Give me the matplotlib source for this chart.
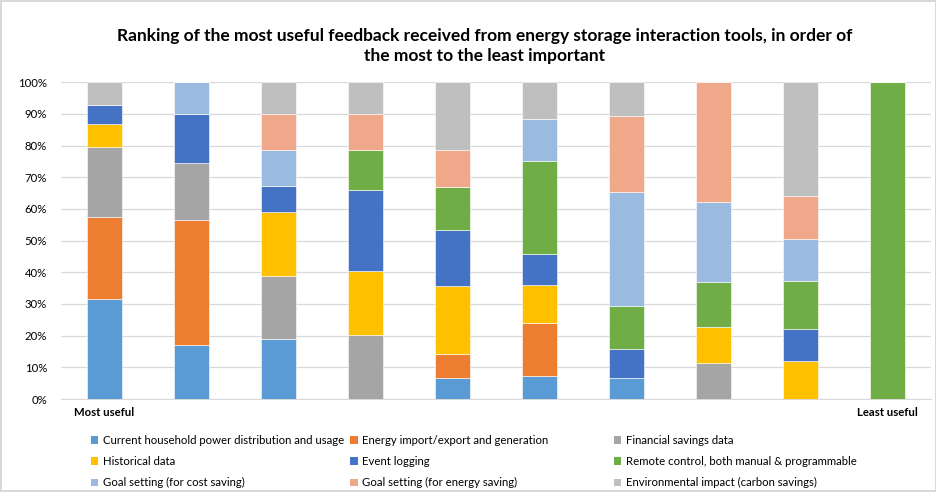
import numpy as np
import matplotlib
matplotlib.use('Agg')
import matplotlib.pyplot as plt
from matplotlib.patches import Patch
from matplotlib.ticker import PercentFormatter

plt.rcParams.update({
    'font.family': ['Lato', 'DejaVu Sans'],
    'font.size': 8,
})

# rank positions (1 = most useful ... 10 = least useful)
rank_labels = ['Most useful', '', '', '', '', '', '', '', '', 'Least useful']

# share of responses per rank (%)
current_usage = [31.7, 17.1, 18.8, 0, 6.5, 7.4, 6.6, 0, 0, 0]
energy_import = [25.9, 39.3, 0, 0, 7.8, 16.7, 0, 0, 0, 0]
financial = [21.8, 18.2, 20.1, 20.1, 0, 0, 0, 11.3, 0, 0]
historical = [7.4, 0, 20.1, 20.4, 21.3, 11.8, 0, 11.5, 12.0, 0]
event_logging = [5.9, 15.3, 8.3, 25.4, 17.8, 9.8, 9.1, 0, 10.0, 0]
remote_control = [0, 0, 0, 12.6, 13.4, 29.5, 13.5, 14.1, 15.1, 100]
goal_cost = [0, 10.2, 11.4, 0, 0, 13.1, 36.0, 25.3, 13.4, 0]
goal_energy = [0, 0, 11.1, 11.3, 11.9, 0, 24.0, 37.9, 13.5, 0]
environmental = [7.4, 0, 10.2, 10.2, 21.4, 11.8, 10.8, 0, 36.1, 0]

series_names = [
    'Current household power distribution and usage',
    'Energy import/export and generation',
    'Financial savings data',
    'Historical data',
    'Event logging',
    'Remote control, both manual & programmable',
    'Goal setting (for cost saving)',
    'Goal setting (for energy saving)',
    'Environmental impact (carbon savings)',
]
series_values = [current_usage, energy_import, financial, historical,
                 event_logging, remote_control, goal_cost, goal_energy,
                 environmental]
series_colors = ['#5B9BD5', '#ED7D31', '#A5A5A5', '#FFC000', '#4472C4',
                 '#70AD47', '#9ABADF', '#F0A88A', '#BFBFBF']

fig = plt.figure(figsize=(9.37, 4.92), dpi=100)
fig.patch.set_edgecolor('#D9D9D9')
fig.patch.set_linewidth(1.5)
ax = fig.add_axes([0.065, 0.189, 0.929, 0.644])

x = np.arange(len(rank_labels))
bottom = np.zeros(len(rank_labels))
for name, vals, col in zip(series_names, series_values, series_colors):
    vals = np.array(vals, dtype=float)
    ax.bar(x, vals, 0.4, bottom=bottom, color=col, label=name,
           edgecolor='white', linewidth=0.4, zorder=3)
    bottom += vals

ax.set_xlim(-0.5, len(rank_labels) - 0.5)
ax.set_ylim(0, 100)
ax.set_yticks(np.arange(0, 101, 10))
ax.yaxis.set_major_formatter(PercentFormatter(decimals=0))
ax.set_xticks(x)
ax.set_xticklabels(rank_labels, fontweight='bold')
ax.tick_params(length=0, labelsize=8.2, colors='#000000')
ax.tick_params(axis='y', pad=10)
ax.tick_params(axis='x', pad=6)
ax.grid(axis='y', color='#D9D9D9', lw=0.9, zorder=0)
for s in ['top', 'right', 'left']:
    ax.spines[s].set_visible(False)
ax.spines['bottom'].set_color('#D9D9D9')

fig.text(0.517, 0.906,
         'Ranking of the most useful feedback received from energy storage interaction tools, in order of\n'
         'the most to the least important',
         ha='center', va='center', fontsize=12.5, fontweight='bold',
         linespacing=1.3)

# legend laid out in three fixed columns like the original
col_x = [0.097, 0.374, 0.655]
for c in range(3):
    idx = [c, c + 3, c + 6]
    handles = [Patch(facecolor=series_colors[i]) for i in idx]
    fig.legend(handles, [series_names[i] for i in idx],
               loc='upper left', bbox_to_anchor=(col_x[c], 0.116),
               frameon=False, fontsize=8.2, handlelength=0.65,
               handleheight=0.65, handletextpad=0.4, labelspacing=0.9,
               borderaxespad=0, borderpad=0)

plt.savefig('out.png', dpi=100)
